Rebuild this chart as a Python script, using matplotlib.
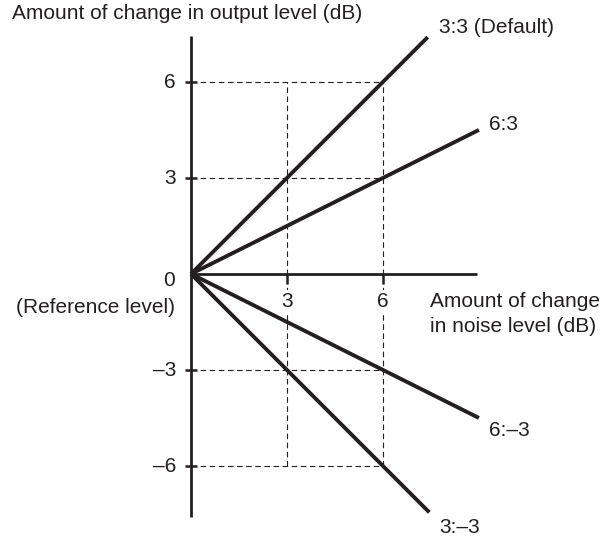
import matplotlib.pyplot as plt

plt.rcParams['font.family'] = ['Liberation Sans', 'DejaVu Sans']

# ratio curves: (label, end x, end y)
ratio_labels = ['3:3 (Default)', '6:3', '6:\u20133', '3:\u20133']
ratio_end_x = [7.4, 9.0, 9.0, 7.45]
ratio_end_y = [7.4, 4.5, -4.5, -7.45]
# where each label sits (left edge, baseline)
label_x = [7.75, 9.3, 9.3, 7.75]
label_y = [7.53, 4.5, -5.06, -8.09]

x_ticks = [3, 6]
y_ticks = [6, 3, -3, -6]
y_tick_labels = ['6', '3', '\u20133', '\u20136']

ink = '#231f20'

fig = plt.figure(figsize=(6.12, 5.37), dpi=100)
ax = fig.add_axes([0, 0, 1, 1])
ax.set_xlim(-5.97, 13.16)
ax.set_ylim(-8.22, 8.56)
ax.axis('off')

fs = 15
dash = (0, (5, 3.2))

# dashed guide lines
for y in y_ticks:
    ax.plot([0, 6], [y, y], color=ink, lw=0.8, ls=dash)
for x in x_ticks:
    ax.plot([x, x], [-6, 6], color=ink, lw=0.8, ls=dash)

# axes
ax.plot([0, 0], [-7.6, 7.44], color=ink, lw=2.0, solid_capstyle='butt')
ax.plot([0, 8.95], [0, 0], color=ink, lw=2.0, solid_capstyle='butt')
for y in y_ticks:
    ax.plot([-0.19, 0.19], [y, y], color=ink, lw=1.8, solid_capstyle='butt')
for x in x_ticks:
    ax.plot([x, x], [0, -0.3], color=ink, lw=1.8, solid_capstyle='butt')

# ratio lines
for ex, ey in zip(ratio_end_x, ratio_end_y):
    ax.plot([0, ex], [0, ey], color=ink, lw=2.8, solid_capstyle='butt')

for lbl, lx, ly in zip(ratio_labels, label_x, label_y):
    ax.text(lx, ly, lbl, fontsize=fs, ha='left', va='baseline', color=ink)

# tick labels
for y, t in zip(y_ticks, y_tick_labels):
    ax.text(-0.47, y - 0.2, t, fontsize=fs, ha='right', va='baseline', color=ink)
for x in x_ticks:
    ax.text(x, -1.03, str(x), fontsize=fs, ha='center', va='baseline', color=ink,
            bbox=dict(facecolor='white', edgecolor='none', pad=1))
ax.text(-0.5, -0.38, '0', fontsize=fs, ha='right', va='baseline', color=ink)

ax.text(-0.5, -1.22, '(Reference level)', fontsize=fs, ha='right',
        va='baseline', color=ink)
ax.text(-5.6, 7.97, 'Amount of change in output level (dB)', fontsize=fs,
        ha='left', va='baseline', color=ink)
ax.text(7.47, -1.03, 'Amount of change', fontsize=fs, ha='left',
        va='baseline', color=ink)
ax.text(7.47, -1.81, 'in noise level (dB)', fontsize=fs, ha='left',
        va='baseline', color=ink)

fig.savefig('out.png', dpi=100)
